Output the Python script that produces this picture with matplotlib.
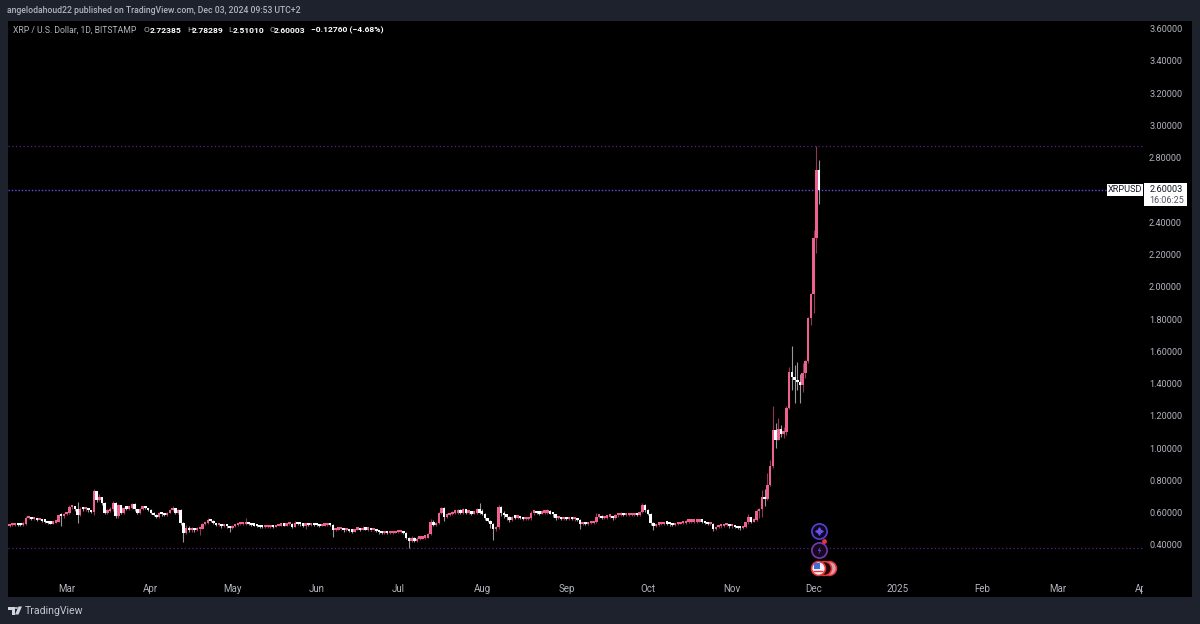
import numpy as np
import pandas as pd
import matplotlib
matplotlib.use("Agg")
import matplotlib.pyplot as plt
import matplotlib.dates as mdates
from matplotlib.patches import Rectangle, Polygon
from matplotlib.path import Path

plt.rcParams['font.family'] = ['Roboto', 'DejaVu Sans']

# Daily candles, 8 Feb 2024 to 3 Dec 2024, one line per month
closes = [
 .515,.525,.525,.528,.524,.522,.530,.565,.570,.558,.560,.556,.558,.550,.545,.537,.533,.538,.545,.585,.578,.590,
 .600,.635,.640,.620,.585,.625,.620,.622,.615,.605,.735,.680,.700,.660,.600,.612,.625,.660,.577,.648,.600,.627,.625,.630,.655,.620,.600,.625,.637,.628,.618,
 .600,.587,.574,.596,.590,.585,.600,.615,.627,.600,.615,.535,.475,.505,.490,.500,.490,.500,.500,.530,.535,.555,.550,.535,.525,.525,.515,.520,.515,.505,
 .515,.522,.530,.530,.530,.535,.528,.522,.520,.518,.512,.510,.512,.512,.515,.512,.518,.520,.522,.520,.530,.530,.512,.535,.530,.528,.520,.530,.525,.528,.525,
 .522,.518,.520,.522,.525,.523,.490,.495,.497,.497,.490,.492,.488,.483,.495,.500,.493,.505,.495,.495,.490,.490,.488,.480,.475,.477,.475,.475,.475,.478,
 .480,.480,.475,.445,.425,.445,.425,.440,.440,.445,.445,.470,.545,.525,.535,.600,.630,.575,.585,.590,.600,.600,.610,.600,.620,.600,.600,.595,.600,.625,.600,
 .595,.565,.550,.530,.500,.510,.635,.600,.585,.575,.555,.575,.570,.575,.565,.560,.560,.565,.600,.600,.597,.595,.600,.600,.610,.595,.590,.565,.570,.560,.565,
 .560,.565,.560,.560,.555,.530,.535,.530,.535,.535,.540,.575,.580,.565,.570,.575,.575,.565,.585,.585,.595,.585,.585,.585,.585,.590,.585,.605,.645,.615,
 .595,.535,.515,.527,.528,.530,.535,.532,.528,.525,.528,.530,.535,.535,.545,.545,.545,.545,.545,.548,.545,.535,.530,.530,.500,.510,.515,.515,.525,.525,.515,
 .515,.512,.505,.503,.513,.540,.575,.545,.555,.610,.625,.700,.685,.770,.890,1.115,1.050,1.116,1.090,1.100,1.246,1.470,1.440,1.420,1.410,1.390,1.466,1.540,1.806,1.955,
 2.300,2.72385,2.60003,
]
highs = [
 .525,.532,.532,.535,.532,.532,.540,.580,.575,.572,.565,.565,.565,.558,.552,.545,.540,.542,.552,.595,.600,.600,
 .605,.645,.650,.642,.665,.635,.632,.630,.625,.618,.745,.730,.715,.700,.665,.625,.635,.670,.665,.655,.650,.635,.632,.638,.662,.658,.622,.632,.642,.635,.625,
 .620,.602,.592,.602,.600,.595,.605,.622,.642,.630,.622,.620,.545,.525,.515,.510,.505,.510,.510,.535,.542,.568,.562,.552,.538,.532,.528,.525,.522,.520,
 .522,.528,.536,.545,.535,.565,.540,.530,.526,.524,.520,.516,.518,.518,.520,.520,.524,.526,.528,.528,.536,.540,.534,.550,.540,.535,.532,.535,.535,.535,.532,
 .528,.525,.525,.527,.530,.530,.530,.500,.503,.502,.503,.498,.497,.492,.500,.510,.505,.520,.508,.500,.496,.495,.492,.488,.480,.482,.480,.480,.480,.482,
 .485,.486,.482,.478,.450,.455,.452,.450,.448,.450,.452,.475,.560,.555,.545,.605,.635,.635,.600,.598,.612,.612,.622,.620,.628,.625,.610,.602,.608,.632,.658,
 .625,.600,.570,.552,.535,.520,.645,.640,.610,.590,.580,.580,.582,.582,.580,.570,.568,.570,.612,.610,.605,.602,.606,.610,.625,.615,.600,.592,.580,.575,.572,
 .572,.575,.572,.570,.565,.560,.542,.540,.542,.545,.550,.600,.592,.585,.578,.585,.582,.578,.592,.592,.605,.600,.592,.592,.592,.596,.594,.612,.662,.655,
 .622,.600,.540,.532,.534,.536,.545,.540,.535,.532,.534,.536,.540,.545,.552,.552,.552,.552,.552,.554,.552,.548,.538,.538,.535,.515,.520,.522,.530,.535,.530,
 .522,.520,.512,.510,.520,.545,.590,.575,.565,.620,.632,.740,.747,.845,.926,1.261,1.158,1.184,1.143,1.133,1.260,1.500,1.630,1.515,1.534,1.460,1.530,1.545,1.815,1.960,
 2.350,2.870,2.78289,
]
lows = [
 .510,.512,.518,.520,.518,.515,.520,.525,.558,.552,.553,.550,.552,.545,.535,.530,.528,.530,.535,.540,.520,.565,
 .585,.595,.625,.612,.535,.580,.612,.612,.605,.600,.585,.665,.670,.645,.590,.595,.605,.612,.565,.570,.590,.595,.615,.618,.625,.612,.592,.595,.618,.620,.610,
 .595,.580,.568,.570,.582,.580,.582,.598,.610,.595,.595,.525,.420,.470,.482,.480,.482,.485,.460,.498,.525,.530,.542,.528,.518,.515,.508,.510,.508,.480,
 .500,.512,.518,.522,.524,.525,.522,.515,.515,.512,.506,.505,.506,.506,.508,.506,.510,.515,.516,.515,.518,.524,.505,.510,.524,.518,.514,.500,.518,.520,.518,
 .515,.512,.515,.517,.518,.518,.452,.485,.490,.490,.478,.485,.478,.475,.478,.490,.485,.490,.490,.488,.484,.485,.480,.470,.468,.470,.470,.470,.470,.472,
 .474,.474,.468,.440,.380,.420,.418,.418,.432,.436,.438,.442,.465,.515,.520,.530,.595,.550,.565,.578,.585,.590,.595,.592,.595,.595,.592,.588,.590,.595,.590,
 .585,.555,.540,.505,.430,.485,.500,.580,.570,.552,.545,.550,.560,.560,.558,.552,.552,.555,.555,.588,.590,.585,.590,.592,.595,.590,.575,.555,.558,.552,.555,
 .555,.555,.552,.550,.548,.500,.525,.522,.525,.528,.528,.535,.565,.558,.560,.562,.565,.555,.558,.575,.580,.578,.578,.578,.578,.580,.578,.580,.600,.605,
 .588,.525,.495,.512,.520,.523,.525,.525,.520,.518,.520,.524,.528,.530,.530,.538,.538,.538,.538,.540,.535,.528,.522,.524,.487,.495,.505,.508,.512,.518,.508,
 .508,.505,.498,.495,.497,.505,.530,.535,.540,.550,.570,.575,.643,.680,.767,.875,.999,1.050,1.070,1.060,1.080,1.240,1.360,1.280,1.360,1.280,1.350,1.435,1.530,1.760,
 1.840,2.210,2.51010,
]
first_open = .510

price_ticks = [3.6,3.4,3.2,3.0,2.8,2.4,2.2,2.0,1.8,1.6,1.4,1.2,1.0,0.8,0.6,0.4]
level_lines = [2.87, 0.38]
last_price = 2.60003
month_dates = ['2024-03-01','2024-04-01','2024-05-01','2024-06-01','2024-07-01','2024-08-01','2024-09-01',
               '2024-10-01','2024-11-01','2024-12-01','2025-01-01','2025-02-01','2025-03-01','2025-04-01']
month_labels = ['Mar','Apr','May','Jun','Jul','Aug','Sep','Oct','Nov','Dec','2025','Feb','Mar','Apr']
event_prices = [0.487, 0.370, 0.258]

BG = '#1e222d'; GREY = '#b2b5be'; PINK = '#ee5f92'; WHITE = '#ffffff'
W, H = 1200, 624
fig = plt.figure(figsize=(12, 6.24), dpi=100, facecolor=BG)

def fx(px): return px / W
def fy(py): return 1 - py / H

# right-hand price panel (black, same as the plot), behind the axes
fig.patches.append(Rectangle((fx(1143), fy(597)), fx(49), (597-21)/H, transform=fig.transFigure, fc='black', ec='none', zorder=-1))

ax = fig.add_axes([fx(8), fy(597), fx(1143-8), (597-21)/H])
ax.set_facecolor('black')
for s in ax.spines.values():
    s.set_visible(False)

dates = pd.date_range(end='2024-12-03', periods=len(closes))
x = mdates.date2num(dates)
assert len(closes) == len(highs) == len(lows) == 300
c = np.array(closes); h = np.array(highs); l = np.array(lows)
o = np.r_[first_open, c[:-1]]
up = c >= o
colors = np.where(up, PINK, WHITE)

ax.vlines(x, l, h, colors=colors, lw=0.8, alpha=0.6, zorder=3)
ax.bar(x, np.maximum(np.abs(c-o), 0.014), bottom=np.minimum(o, c), width=0.92, color=colors, lw=0, zorder=4)

for lv in level_lines:
    ax.axhline(lv, color='#5e1c80', lw=0.9, ls=(0, (1, 2)), zorder=2)
ax.axhline(last_price, color='#6f48ea', lw=1.0, ls=(0, (1, 1.4)), zorder=2)

x_end = mdates.date2num(pd.Timestamp('2024-12-03'))
ax.set_xlim(x_end - (819-8)/2.716, x_end + (1143-819)/2.716)
ax.set_ylim(0.4 + (545-597)/161.4, 0.4 + (545-21)/161.4)

ax.set_xticks(mdates.date2num(pd.to_datetime(month_dates)))
ax.set_xticklabels(month_labels)
ax.tick_params(axis='x', direction='in', length=0, pad=-9.5, labelsize=7, labelcolor=GREY)
for t in ax.get_xticklabels():
    t.set_clip_box(ax.bbox); t.set_clip_on(True)
ax.yaxis.tick_right()
ax.set_yticks(price_ticks)
ax.set_yticklabels([f'{p:.5f}' for p in price_ticks])
ax.tick_params(axis='y', length=0, pad=4.4, labelsize=6.6, labelcolor=GREY)

# event icons above the time axis
ev_x = [x_end, x_end, x_end]
ax.scatter(ev_x[:1], event_prices[:1], s=120, facecolor='#0c0a20', edgecolor='#5b3fd6', lw=1.2, zorder=6)
ax.scatter(ev_x[:1], event_prices[:1], s=26, marker=(4, 1, 0), color='#6a50e8', zorder=7)
ax.scatter(ev_x[1:2], event_prices[1:2], s=120, facecolor='#140a20', edgecolor='#7b35b0', lw=1.2, zorder=6)
bolt = Path([(0.25,1),(-0.45,-0.1),(0,-0.1),(-0.25,-1),(0.45,0.15),(0,0.15),(0.25,1)])
ax.scatter(ev_x[1:2], event_prices[1:2], s=34, marker=bolt, color='#8a3cc0', lw=0, zorder=7)
ax.scatter([x_end+1.8], [event_prices[1]+0.055], s=12, color='#e8353b', lw=0, zorder=8)
ax.scatter([x_end+3.6], event_prices[2:], s=100, facecolor='#d9a0a8', edgecolor='#e8353b', lw=1.1, zorder=6)
ax.scatter([x_end+1.9], event_prices[2:], s=100, facecolor='#200608', edgecolor='#e8353b', lw=1.1, zorder=7)
ax.scatter([x_end-0.2], event_prices[2:], s=100, facecolor='#f0f0f4', edgecolor='#e8353b', lw=1.2, zorder=8)
ax.scatter([x_end-0.9], [event_prices[2]+0.012], s=24, marker='s', color='#3b6fd8', lw=0, zorder=9)
ax.scatter([x_end-0.2], [event_prices[2]-0.018], s=45, marker='_', color='#e8353b', lw=1, zorder=9)

# header, legend and footer texts
fig.text(fx(7), fy(10.5), 'angelodahoud22 published on TradingView.com, Dec 03, 2024 09:53 UTC+2',
         color=GREY, fontsize=6.25, va='center', fontweight='medium')
legend_y = fy(30.5)
fig.text(fx(13), legend_y, 'XRP / U.S. Dollar, 1D, BITSTAMP', color=GREY, fontsize=6.25, va='center')
pieces = [(144, 'O', GREY, 'normal'), (150, '2.72385', 'white', 'bold'),
          (187, 'H', GREY, 'normal'), (192, '2.78289', 'white', 'bold'),
          (228, 'L', GREY, 'normal'), (232.5, '2.51010', 'white', 'bold'),
          (269, 'C', GREY, 'normal'), (274, '2.60003', 'white', 'bold'),
          (311, '−0.12760 (−4.68%)', 'white', 'bold')]
for px, s, col, wgt in pieces:
    fig.text(fx(px), legend_y, s, color=col, fontsize=6.1, va='center', fontweight=wgt)

# last-price labels on the price scale
fig.patches.append(Rectangle((fx(1107), fy(196)), 36/W, 12/H, transform=fig.transFigure, fc='white', ec='none', zorder=5))
fig.patches.append(Rectangle((fx(1144), fy(206)), 43/W, 23/H, transform=fig.transFigure, fc='white', ec='none', zorder=5))
fig.text(fx(1125), fy(190), 'XRPUSD', color='#131722', fontsize=6.6, ha='center', va='center', zorder=6)
fig.text(fx(1149.5), fy(190), '2.60003', color='#131722', fontsize=6.6, va='center', zorder=6)
fig.text(fx(1149.5), fy(200.5), '16:06:25', color='#50535e', fontsize=6.5, va='center', zorder=6)

# TradingView mark and name in the footer
logo = [[(8,606.5),(15,606.5),(15,614.5),(11.5,614.5),(11.5,610),(8,610)],
        [(18.5,606.5),(22,606.5),(18.5,614.5),(15,614.5)]]
for pts in logo:
    fig.patches.append(Polygon([(fx(a), fy(b)) for a, b in pts], transform=fig.transFigure, fc='#d1d4dc', ec='none'))
fig.patches.append(plt.Circle((fx(16.3), fy(608)), 1.6/W, transform=fig.transFigure, fc='#d1d4dc', ec='none'))
fig.text(fx(24.5), fy(611), 'TradingView', color='#c4c7cf', fontsize=7.6, va='center')

fig.savefig('out.png', dpi=100, facecolor=BG)
